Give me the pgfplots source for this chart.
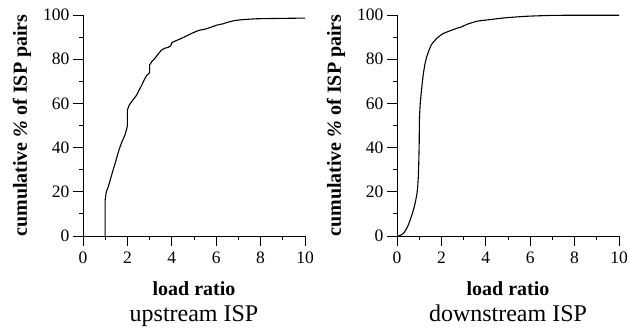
\documentclass[border=0pt]{standalone}
\usepackage{pgfplots}
\pgfplotsset{compat=1.18}
\usepackage{fontspec}
\setmainfont{Liberation Serif}
\begin{document}
\begin{tikzpicture}
\pgfplotsset{
  myaxis/.style={
    scale only axis, width=222pt, height=221pt,
    xmin=0, xmax=10, ymin=0, ymax=100,
    axis x line=bottom, axis y line=left,
    axis line style={-, line width=0.9pt},
    xtick={0,2,4,6,8,10}, ytick={0,20,40,60,80,100},
    minor x tick num=1, minor y tick num=1,
    tick align=outside,
    major tick length=10pt, minor tick length=4pt,
    every tick/.style={black, line width=0.9pt},
    /pgf/number format/assume math mode=true,
    tick label style={font=\fontsize{17.5}{18}\selectfont},
    xticklabel style={yshift=-2pt},
    xlabel={\textbf{load ratio}},
    ylabel={\textbf{cumulative \textit{\%} of ISP pairs}},
    every axis x label/.style={at={(axis description cs:0.5,-0.267)}, anchor=base, font=\fontsize{20}{22}\selectfont},
    every axis y label/.style={at={(axis description cs:-0.275,0.5)}, rotate=90, anchor=center, font=\fontsize{20}{22}\selectfont},
    title style={at={(axis description cs:0.5,-0.412)}, anchor=base, font=\fontsize{24}{26}\selectfont},
  }
}
\begin{axis}[myaxis, at={(0pt,0pt)}, anchor=south west, title={upstream ISP}]
\addplot[black, line width=1.1pt] coordinates {
(1,0) (1,16.3) (1.05,20) (1.14,22.3) (1.29,27.6) (1.45,33) (1.62,38.9) (1.75,42.5)
(1.89,45.7) (1.97,48.5) (2.0,50) (2.0,57) (2.08,59.2) (2.19,60.8) (2.3,62.2) (2.42,63.8)
(2.5,65.5) (2.57,66.8) (2.68,69) (2.79,71.3) (2.88,72.8) (2.97,73.6) (3.0,74) (3.0,77.4)
(3.1,78.9) (3.24,80.4) (3.4,82.5) (3.54,84.2) (3.7,85) (3.84,85.4) (3.95,86) (4.0,87.5)
(4.2,88.4) (4.45,89.5) (4.7,90.7) (4.9,91.7) (5.2,93) (5.5,93.6) (5.8,94.6) (6.02,95.4)
(6.3,96) (6.55,96.8) (6.8,97.4) (7.07,97.8) (7.5,98.1) (7.82,98.3) (8.5,98.4) (9.2,98.5) (10,98.6)
};
\end{axis}
\begin{axis}[myaxis, at={(314pt,0pt)}, anchor=south west, title={downstream ISP}]
\addplot[black, line width=1.1pt, smooth, tension=0.3] coordinates {
(0,0) (0.06,0) (0.15,0.3) (0.29,1.2) (0.4,2.8) (0.51,5) (0.62,8) (0.74,11.8) (0.82,15)
(0.89,18.6) (0.93,22) (0.96,26.8) (0.98,33) (1.0,41.9) (1.01,52.5) (1.04,59) (1.09,64.6)
(1.14,69.5) (1.19,73.6) (1.26,77.8) (1.34,81.1) (1.44,84) (1.54,86.4) (1.66,88) (1.8,89.5)
(1.95,90.7) (2.1,91.7) (2.3,92.5) (2.48,93.2) (2.7,94) (2.93,94.7) (3.15,95.8) (3.38,96.5)
(3.6,97.2) (4.0,97.7) (4.5,98.3) (4.96,98.8) (5.5,99.2) (6.0,99.5) (6.9,99.8) (8,99.9) (10,99.9)
};
\end{axis}
\pgfresetboundingbox
\path (-83pt,-95pt) rectangle (546pt,236pt);
\end{tikzpicture}
\end{document}
